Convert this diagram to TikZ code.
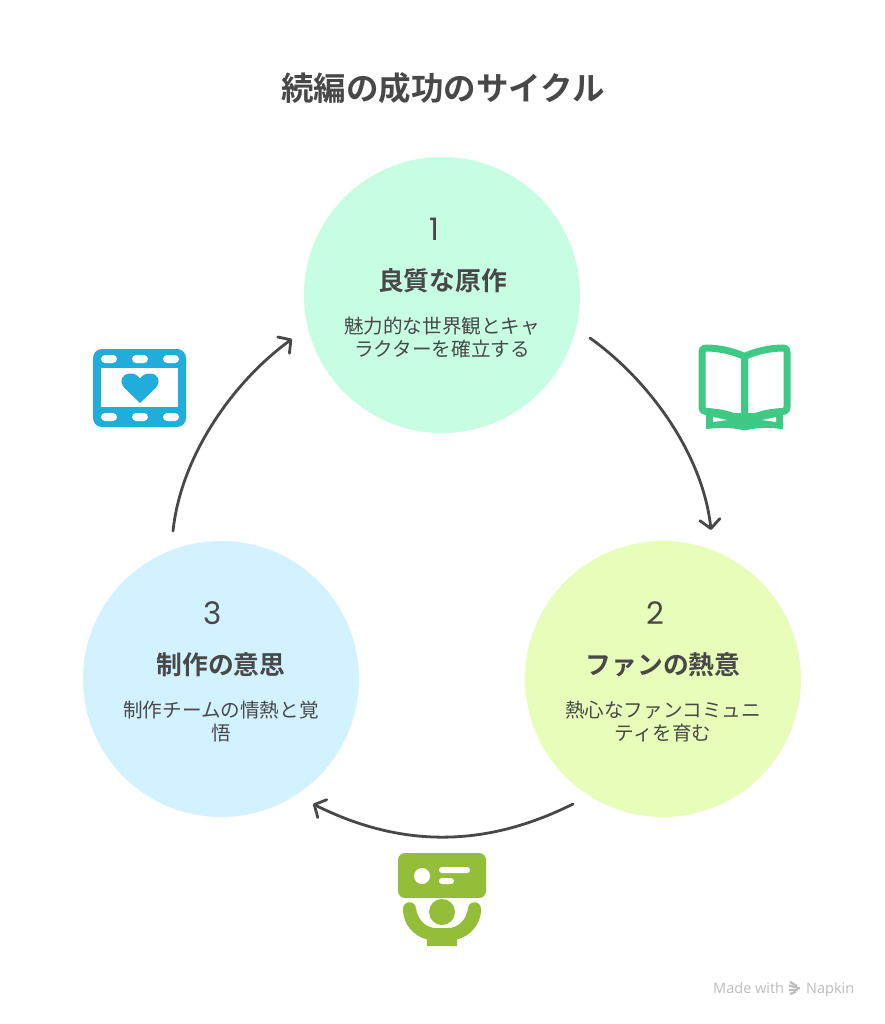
\documentclass[tikz,border=0pt]{standalone}
\usepackage{fontspec}
\usetikzlibrary{arrows.meta}
\newfontfamily\jpfont{Noto Sans CJK JP}
\newfontfamily\jpbold{Noto Sans CJK JP Bold}
\newfontfamily\numfont{Poppins}
\newfontfamily\markfont{Open Sans}
\definecolor{ink}{HTML}{484848}
\definecolor{mint}{HTML}{C6FDE3}
\definecolor{lime}{HTML}{E8FDB9}
\definecolor{sky}{HTML}{D2F2FF}
\definecolor{filmblue}{HTML}{20ADDC}
\definecolor{bookgreen}{HTML}{3EC985}
\definecolor{olive}{HTML}{94BD3A}
\definecolor{markgrey}{HTML}{BDBDBD}
\tikzset{
  stage/.style={circle,draw=none,inner sep=0pt,minimum size=276pt},
  titletext/.style={text=ink,font=\jpbold\fontsize{32.5}{38}\selectfont,inner sep=0pt},
  numtext/.style={text=ink,font=\numfont\fontsize{31}{36}\selectfont,inner sep=0pt},
  headtext/.style={text=ink,font=\jpbold\fontsize{25.8}{30}\selectfont,inner sep=0pt},
  bodytext/.style={text=ink,font=\jpfont\fontsize{19.6}{23}\selectfont,inner sep=0pt,align=center},
  marktext/.style={text=markgrey,font=\markfont\fontsize{14.5}{17}\selectfont,inner sep=0pt},
  cycle/.style={draw=ink,line width=2.8pt,line cap=round,line join=round,
    -{Straight Barb[length=9pt,width=20pt,line width=2.8pt,round]}},
  bookline/.style={draw=bookgreen,line width=7pt,line cap=round,line join=round},
  logostripe/.style={draw=markgrey,line width=2.2pt},
}
\begin{document}
\begin{tikzpicture}[x=1pt,y=-1pt]
\useasboundingbox (0,0) rectangle (884,1024);
\fill[white] (0,0) rectangle (884,1024);

\node[titletext] (title) at (443,88) {続編の成功のサイクル};

\node[stage,fill=mint] (c1) at (442,295) {};
\node[stage,fill=lime] (c2) at (663,679) {};
\node[stage,fill=sky] (c3) at (221,679) {};

\node[numtext] (n1) at (434,229) {1};
\node[headtext] (h1) at (442.5,281) {良質な原作};
\node[bodytext] (b1) at (442,337.5) {魅力的な世界観とキャ\\ラクターを確立する};

\node[numtext] (n2) at (655,613) {2};
\node[headtext] (h2) at (663,665) {ファンの熱意};
\node[bodytext] (b2) at (663,721.5) {熱心なファンコミュニ\\ティを育む};

\node[numtext] (n3) at (213,613) {3};
\node[headtext] (h3) at (221,665) {制作の意思};
\node[bodytext] (b3) at (221,721.5) {制作チームの情熱と覚\\悟};

% connectors
\coordinate (a1s) at (590,338);
\coordinate (a1e) at (711,530);
\coordinate (a2s) at (573,804);
\coordinate (a2e) at (313,804);
\coordinate (a3s) at (173,531);
\coordinate (a3e) at (292,339);
\draw[cycle] (a1s) .. controls (650,381) and (703,455) .. (a1e);
\draw[cycle] (a2s) .. controls (485,848) and (401,848) .. (a2e);
\draw[cycle] (a3s) .. controls (181,455) and (234,381) .. (a3e);

% film icon
\fill[filmblue,rounded corners=9pt] (93,349) rectangle (186,427);
\fill[white] (101,368) rectangle (178,407);
\foreach \hx in {109,140,171}{
  \foreach \hy in {359,417}{
    \fill[white,rounded corners=4pt] (\hx-8,\hy-4) rectangle (\hx+8,\hy+4);
  }
}
\fill[filmblue] (140,403) -- (124.5,388)
  .. controls (118.5,381) and (122,373.5) .. (130.5,373.5)
  .. controls (134.5,373.5) and (138,375.5) .. (140,378.5)
  .. controls (142,375.5) and (145.5,373.5) .. (149.5,373.5)
  .. controls (158,373.5) and (161.5,381) .. (155.5,388) -- cycle;

% book icon
\fill[bookgreen,line join=round,draw=bookgreen,line width=2pt]
  (707,414) -- (707,428) .. controls (722,426) and (735,427) .. (744.5,429.5)
  .. controls (754,427) and (767,426) .. (782,428) -- (782,414) -- cycle;
\draw[bookline] (744.5,356.5) .. controls (733,351) and (718,348) .. (706,348)
  .. controls (703,348) and (702,349) .. (702,352) -- (702,407)
  .. controls (702,410) and (703,411.5) .. (706,411.5)
  .. controls (722,412) and (735,416) .. (744.5,422) -- cycle;
\draw[bookline] (744.5,356.5) .. controls (756,351) and (771,348) .. (783,348)
  .. controls (786,348) and (787,349) .. (787,352) -- (787,407)
  .. controls (787,410) and (786,411.5) .. (783,411.5)
  .. controls (767,412) and (754,416) .. (744.5,422) -- cycle;
\fill[white] (713,417) -- (727,420) -- (713,422) -- cycle;
\fill[white] (776,417) -- (762,420) -- (776,422) -- cycle;

% presenter icon
\fill[olive,rounded corners=7pt] (398,853) rectangle (486,898);
\fill[white] (422,876) circle[radius=8];
\fill[white,rounded corners=3pt] (439,867) rectangle (470,873);
\fill[white,rounded corners=3pt] (439,878) rectangle (454,884);
\fill[olive] (442,912) circle[radius=13];
\fill[olive] (403,909)
  .. controls (403,925) and (414,936) .. (427,939.5)
  -- (427,946) -- (457,946) -- (457,939.5)
  .. controls (470,936) and (481,925) .. (481,909)
  .. controls (481,900) and (468,900) .. (468,909)
  .. controls (466,920) and (458,928) .. (448,928)
  -- (436,928)
  .. controls (426,928) and (418,920) .. (416,909)
  .. controls (416,900) and (403,900) .. cycle;

% watermark
\node[marktext,anchor=base west] (m1) at (713,993) {Made with};
\node[marktext,anchor=base west] (m2) at (806,993) {Napkin};
\draw[logostripe] (790,982) -- (797,986);
\draw[logostripe] (789,985.5) -- (800,988.5);
\draw[logostripe] (789,990) -- (798,990);
\draw[logostripe] (790,994) -- (796,991.5);
\end{tikzpicture}
\end{document}
